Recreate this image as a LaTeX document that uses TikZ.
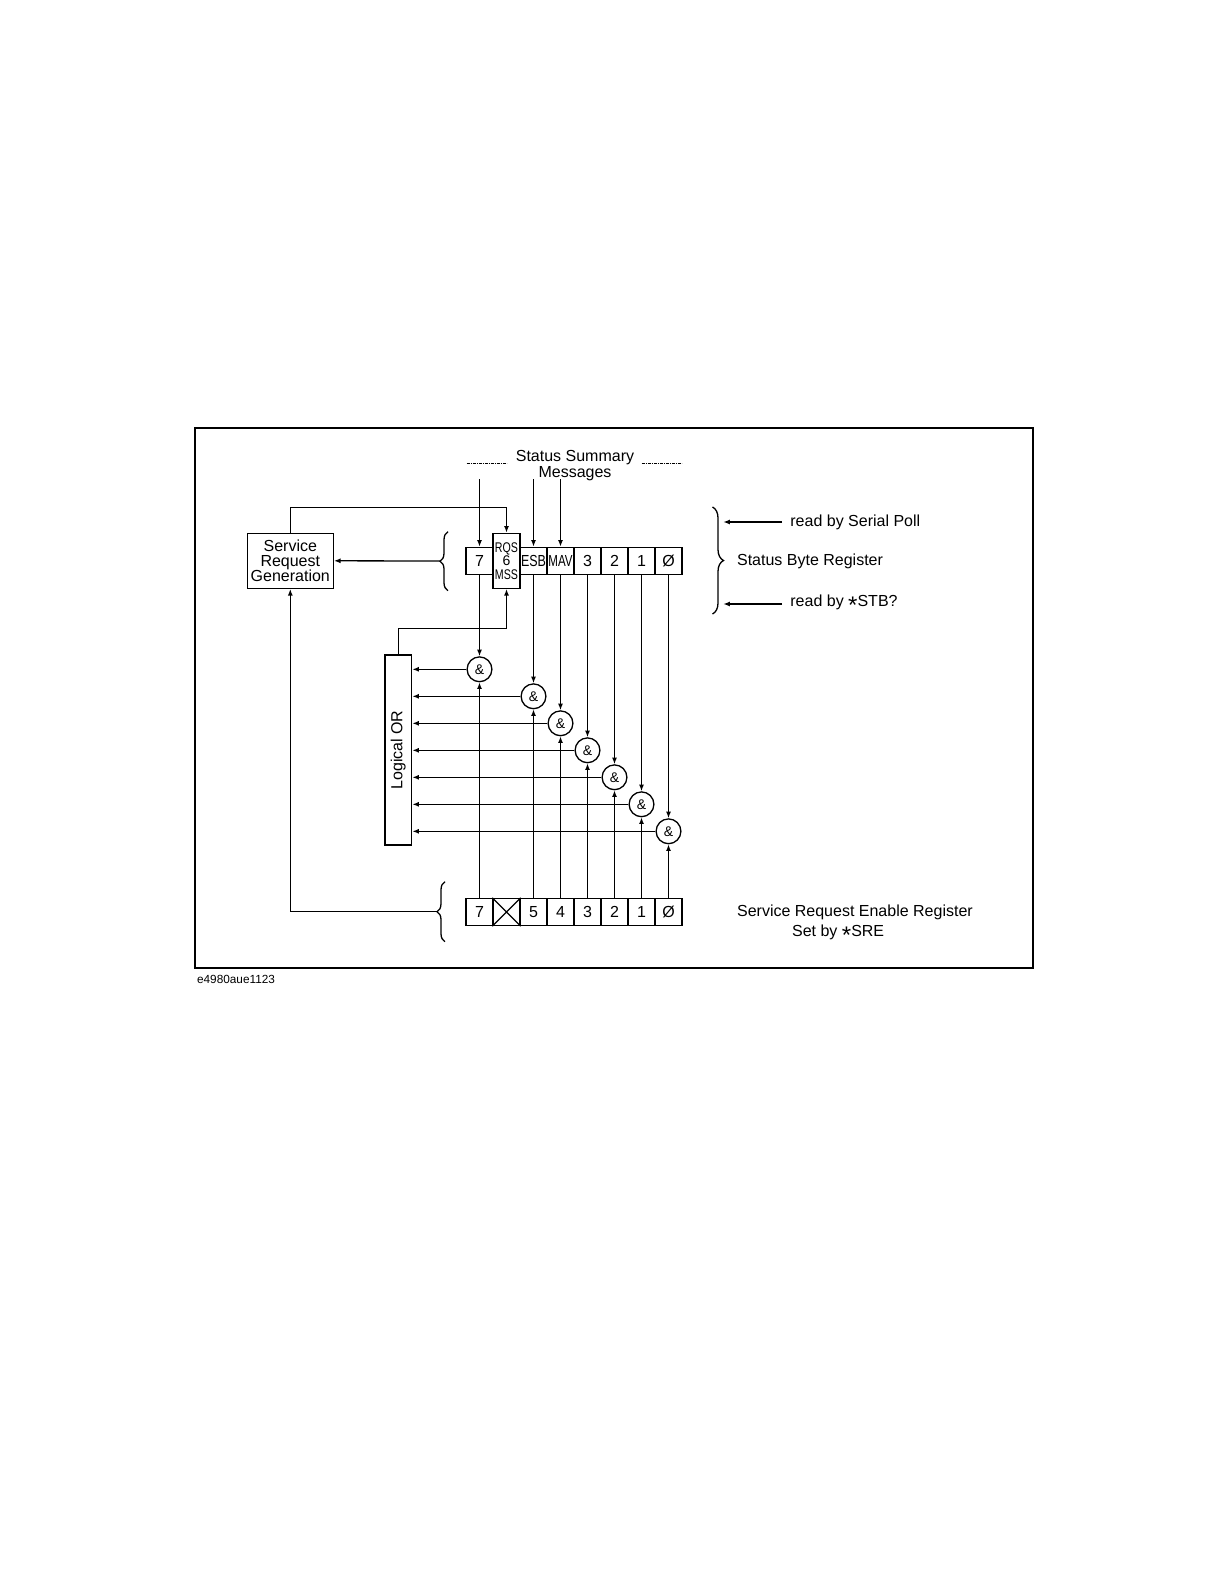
\documentclass[tikz,border=0pt]{standalone}
\usepackage{fontspec}
\setmainfont{Liberation Sans}
\usetikzlibrary{arrows.meta,decorations.pathreplacing}
\newcommand\myast{\raisebox{-0.45em}{\scalebox{1.5}{*}}}
\begin{document}
\begin{tikzpicture}[x=0.5pt,y=-0.5pt,
  every node/.style={font=\fontsize{8pt}{8pt}\selectfont, inner sep=0pt},
  arr/.style={line width=0.65pt,-{Latex[length=3.3pt,width=2.5pt]}},
  cell/.style={draw,line width=0.65pt,minimum width=13.5pt,minimum height=13.5pt},
  andg/.style={draw,circle,line width=0.65pt,minimum size=12.4pt,fill=white,font=\fontsize{7pt}{7pt}\selectfont},
  lbl/.style={anchor=west},
  brc/.style={decorate,decoration={brace,amplitude=4pt},line width=0.65pt},
  dsh/.style={dash pattern=on 1.4pt off 0.6pt on 0.4pt off 0.6pt,line width=0.4pt}
]
\useasboundingbox (0,0) rectangle (1224,1584);
\draw[line width=1pt] (195,428) rectangle (1033,968);

% Status Byte Register
\node[cell] (s7) at (479.5,560.8) {7};
\node[cell,minimum height=27.5pt,align=center,font=\fontsize{7pt}{6.7pt}\selectfont] (s6) at (506.5,560.8) {\scalebox{0.76}[1]{RQS}\\6\\\scalebox{0.76}[1]{MSS}};
\node[cell] (s5) at (533.5,560.8) {\scalebox{0.78}[1]{ESB}};
\node[cell] (s4) at (560.5,560.8) {\scalebox{0.72}[1]{MAV}};
\node[cell] (s3) at (587.5,560.8) {3};
\node[cell] (s2) at (614.5,560.8) {2};
\node[cell] (s1) at (641.5,560.8) {1};
\node[cell] (s0) at (668.5,560.8) {Ø};

% Service Request Enable Register
\node[cell] (e7) at (479.5,912) {7};
\node[cell] (ex) at (506.5,912) {};
\draw[line width=0.65pt] (ex.north west) -- (ex.south east) (ex.north east) -- (ex.south west);
\node[cell] (e5) at (533.5,912) {5};
\node[cell] (e4) at (560.5,912) {4};
\node[cell] (e3) at (587.5,912) {3};
\node[cell] (e2) at (614.5,912) {2};
\node[cell] (e1) at (641.5,912) {1};
\node[cell] (e0) at (668.5,912) {Ø};

% AND gates
\node[andg] (a7) at (479.5,669.3) {\&};
\node[andg] (a5) at (533.5,696.3) {\&};
\node[andg] (a4) at (560.5,723.3) {\&};
\node[andg] (a3) at (587.5,750.3) {\&};
\node[andg] (a2) at (614.5,777.3) {\&};
\node[andg] (a1) at (641.5,804.3) {\&};
\node[andg] (a0) at (668.5,831.3) {\&};

% Logical OR
\node[draw,line width=0.65pt,minimum width=13.35pt,minimum height=95pt] (or) at (398.3,750) {};
\node[rotate=90] (ortxt) at (or.center) {Logical OR};

% Service Request Generation
\node[draw,line width=0.65pt,minimum width=43pt,minimum height=27.5pt,align=center,font=\fontsize{8pt}{7.5pt}\selectfont] (srg) at (290.3,560.8) {Service\\Request\\Generation};

% gate wiring
\foreach \b in {7,5,4,3,2,1,0} {
  \draw[arr] (s\b.south) -- (a\b.north);
  \draw[arr] (e\b.north) -- (a\b.south);
  \draw[arr] (a\b.west) -- (a\b.west -| or.east);
}

% Status summary messages
\node (ssm1) at (575,458) {Status Summary};
\node (ssm2) at (575,474) {Messages};
\draw[dsh] (466.7,463.3) -- (506.7,463.3);
\draw[dsh] (641.7,463.3) -- (681.7,463.3);
\coordinate (t7) at (479.5,479.3);
\coordinate (t5) at (533.5,479.3);
\coordinate (t4) at (560.5,479.3);
\draw[arr] (t7) -- (s7.north);
\draw[arr] (t5) -- (s5.north);
\draw[arr] (t4) -- (s4.north);

% RQS loop
\coordinate (rq) at (506.5,507.3);
\draw[arr] (srg.north) |- (rq) -- (s6.north);
\coordinate (orj) at (506.5,628.3);
\draw[arr] (or.north) |- (orj) -- (s6.south);

% braces
\draw[brc] (448,590.7) -- (448,531.7);
\coordinate (bl) at (440,561);
\draw[arr] (bl) -- (srg.east);
\draw[brc] (445,941.7) -- (445,881.7);
\coordinate (be) at (438,911.7);
\draw[arr] (be) -| (srg.south);
\draw[brc,decoration={brace,amplitude=5.5pt}] (712.5,507) -- (712.5,614);

% right labels
\node[lbl] (rsp) at (790,522) {read by Serial Poll};
\node[lbl] (sbr) at (736.7,561.7) {Status Byte Register};
\node[lbl] (rstb) at (790,604) {read by \myast STB?};
\coordinate (rspe) at (723.3,522);
\coordinate (rstbe) at (723.3,604);
\draw[arr] ([xshift=-4pt]rsp.west) -- (rspe);
\draw[arr] ([xshift=-4pt]rstb.west) -- (rstbe);

\node[lbl] (sre1) at (736.7,912.3) {Service Request Enable Register};
\node[lbl] (sre2) at (791.7,934.3) {Set by \myast SRE};

\node[anchor=west,font=\fontsize{5.9pt}{6pt}\selectfont] (cap) at (196.7,979) {e4980aue1123};
\end{tikzpicture}
\end{document}
